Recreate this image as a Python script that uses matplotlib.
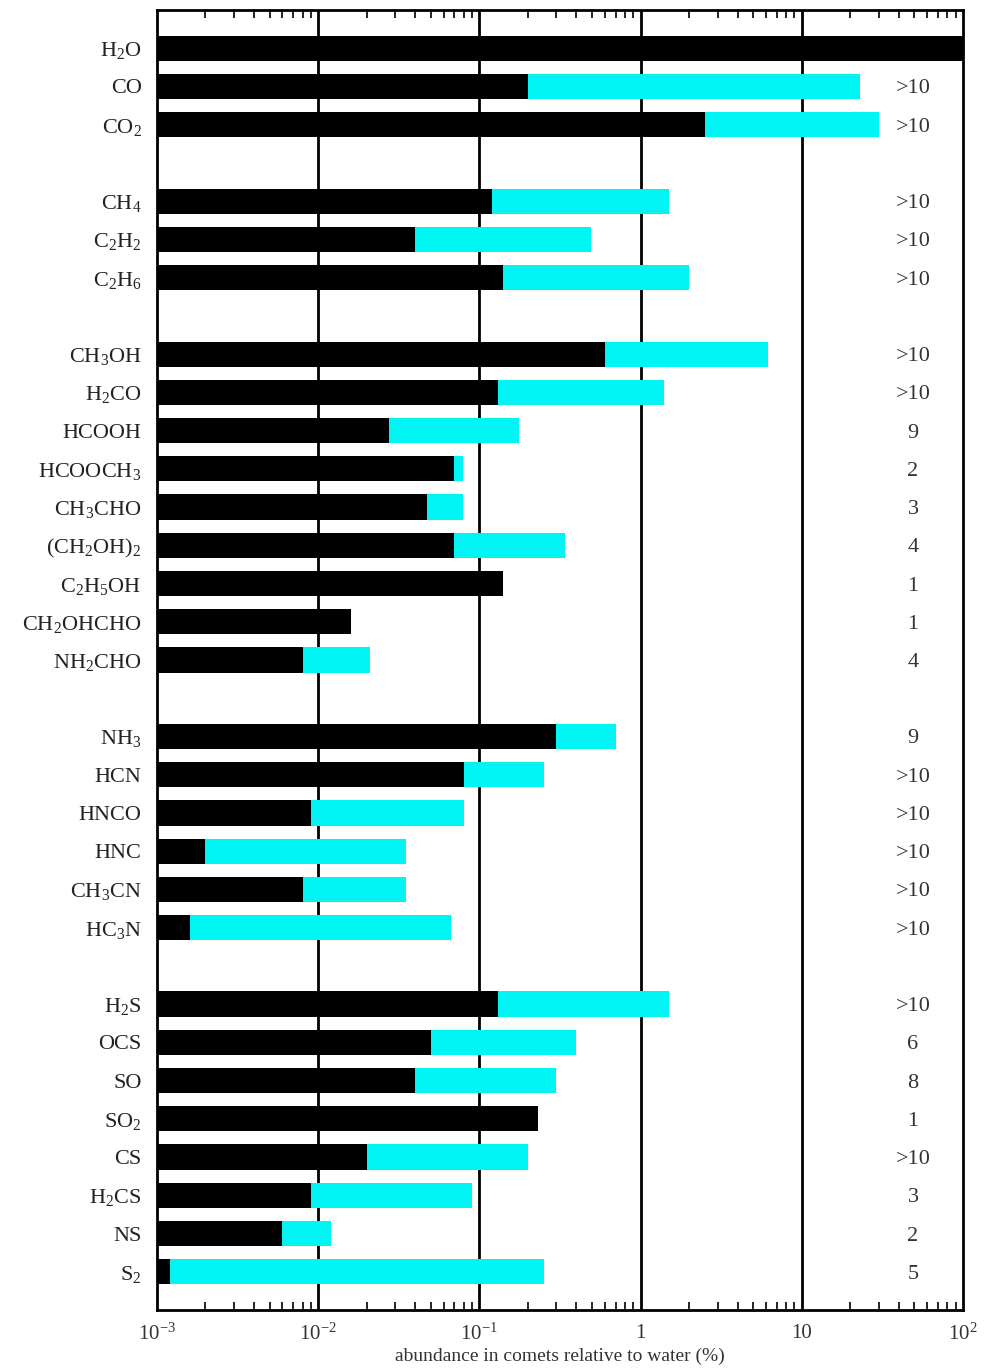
## plot.py
# cometary abundances relative to water, log scale bars

import matplotlib
matplotlib.use('Agg')
import matplotlib.pyplot as plt
from matplotlib.ticker import LogLocator, FixedLocator, NullFormatter

plt.rcParams['font.family'] = ['Liberation Serif', 'DejaVu Serif']
plt.rcParams['mathtext.fontset'] = 'stix'
plt.rcParams['mathtext.default'] = 'regular'

## data  (None = blank row between groups)
molecules = ['H$_2$O', 'CO', 'CO$_2$', None,
             'CH$_4$', 'C$_2$H$_2$', 'C$_2$H$_6$', None,
             'CH$_3$OH', 'H$_2$CO', 'HCOOH', 'HCOOCH$_3$', 'CH$_3$CHO',
             '(CH$_2$OH)$_2$', 'C$_2$H$_5$OH', 'CH$_2$OHCHO', 'NH$_2$CHO', None,
             'NH$_3$', 'HCN', 'HNCO', 'HNC', 'CH$_3$CN', 'HC$_3$N', None,
             'H$_2$S', 'OCS', 'SO', 'SO$_2$', 'CS', 'H$_2$CS', 'NS', 'S$_2$']

# lowest measured abundance (%)
abund_min = [100, 0.2, 2.5, None,
             0.12, 0.04, 0.14, None,
             0.6, 0.13, 0.0275, 0.07, 0.047,
             0.07, 0.14, 0.016, 0.008, None,
             0.3, 0.08, 0.009, 0.002, 0.008, 0.0016, None,
             0.13, 0.05, 0.04, 0.23, 0.02, 0.009, 0.006, 0.0012]

# highest measured abundance (%)
abund_max = [100, 23, 30, None,
             1.5, 0.49, 2.0, None,
             6.2, 1.4, 0.176, 0.079, 0.079,
             0.34, 0.14, 0.016, 0.021, None,
             0.7, 0.25, 0.08, 0.035, 0.035, 0.067, None,
             1.5, 0.4, 0.3, 0.23, 0.2, 0.09, 0.012, 0.25]

# number of comets
n_comets = ['', '>10', '>10', None,
            '>10', '>10', '>10', None,
            '>10', '>10', '9', '2', '3', '4', '1', '1', '4', None,
            '9', '>10', '>10', '>10', '>10', '>10', None,
            '>10', '6', '8', '1', '>10', '3', '2', '5']

XMIN = 1e-3
XMAX = 1e2
CYAN = '#00f4f4'


def plot_abund():
	fig = plt.figure(figsize=(9.87, 13.71), dpi=100)
	ax = fig.add_axes([0.159, 0.0445, 0.8167, 0.9482])

	ypos = []
	ylab = []
	for i, name in enumerate(molecules):
		if name is None:
			continue
		lo = abund_min[i]
		hi = abund_max[i]
		# black: from axis start to min, cyan: min to max
		ax.barh(i, lo - XMIN, left=XMIN, height=0.66, color='black', zorder=3)
		if hi > lo:
			ax.barh(i, hi - lo, left=lo, height=0.66, color=CYAN, zorder=3)
		# comet count column, x in axes fraction
		ax.text(0.938, i, n_comets[i], ha='center', va='center_baseline',
		        fontsize=16, color='#333333', transform=ax.get_yaxis_transform())
		ypos.append(i)
		ylab.append(name)

	ax.set_xscale('log')
	ax.set_xlim(XMIN, XMAX)
	ax.set_ylim(len(molecules), -1)

	ax.set_yticks(ypos)
	ax.set_yticklabels(ylab, fontsize=16, color='#222222')
	ax.tick_params(axis='y', length=0, pad=11)

	ax.xaxis.set_major_locator(FixedLocator([1e-3, 1e-2, 1e-1, 1, 10, 100]))
	ax.set_xticklabels(['10$^{-3}$', '10$^{-2}$', '10$^{-1}$', '1', '10', '10$^{2}$'],
	                   fontsize=15, color='#333333')
	ax.xaxis.set_minor_locator(LogLocator(base=10, subs=range(2, 10), numticks=20))
	ax.xaxis.set_minor_formatter(NullFormatter())
	ax.tick_params(axis='x', which='major', direction='in', length=0, pad=10,
	               top=True)
	ax.tick_params(axis='x', which='minor', direction='in', length=6, width=1.2,
	               top=True)

	for d in [1e-2, 1e-1, 1, 10]:
		ax.axvline(d, color='black', lw=2, zorder=1)

	for s in ax.spines.values():
		s.set_linewidth(2)

	ax.set_xlabel('abundance in comets relative to water (%)', fontsize=14,
	              color='#333333', labelpad=2)

	fig.savefig('out.png', dpi=100)
	return


if __name__ == '__main__':
	plot_abund()
